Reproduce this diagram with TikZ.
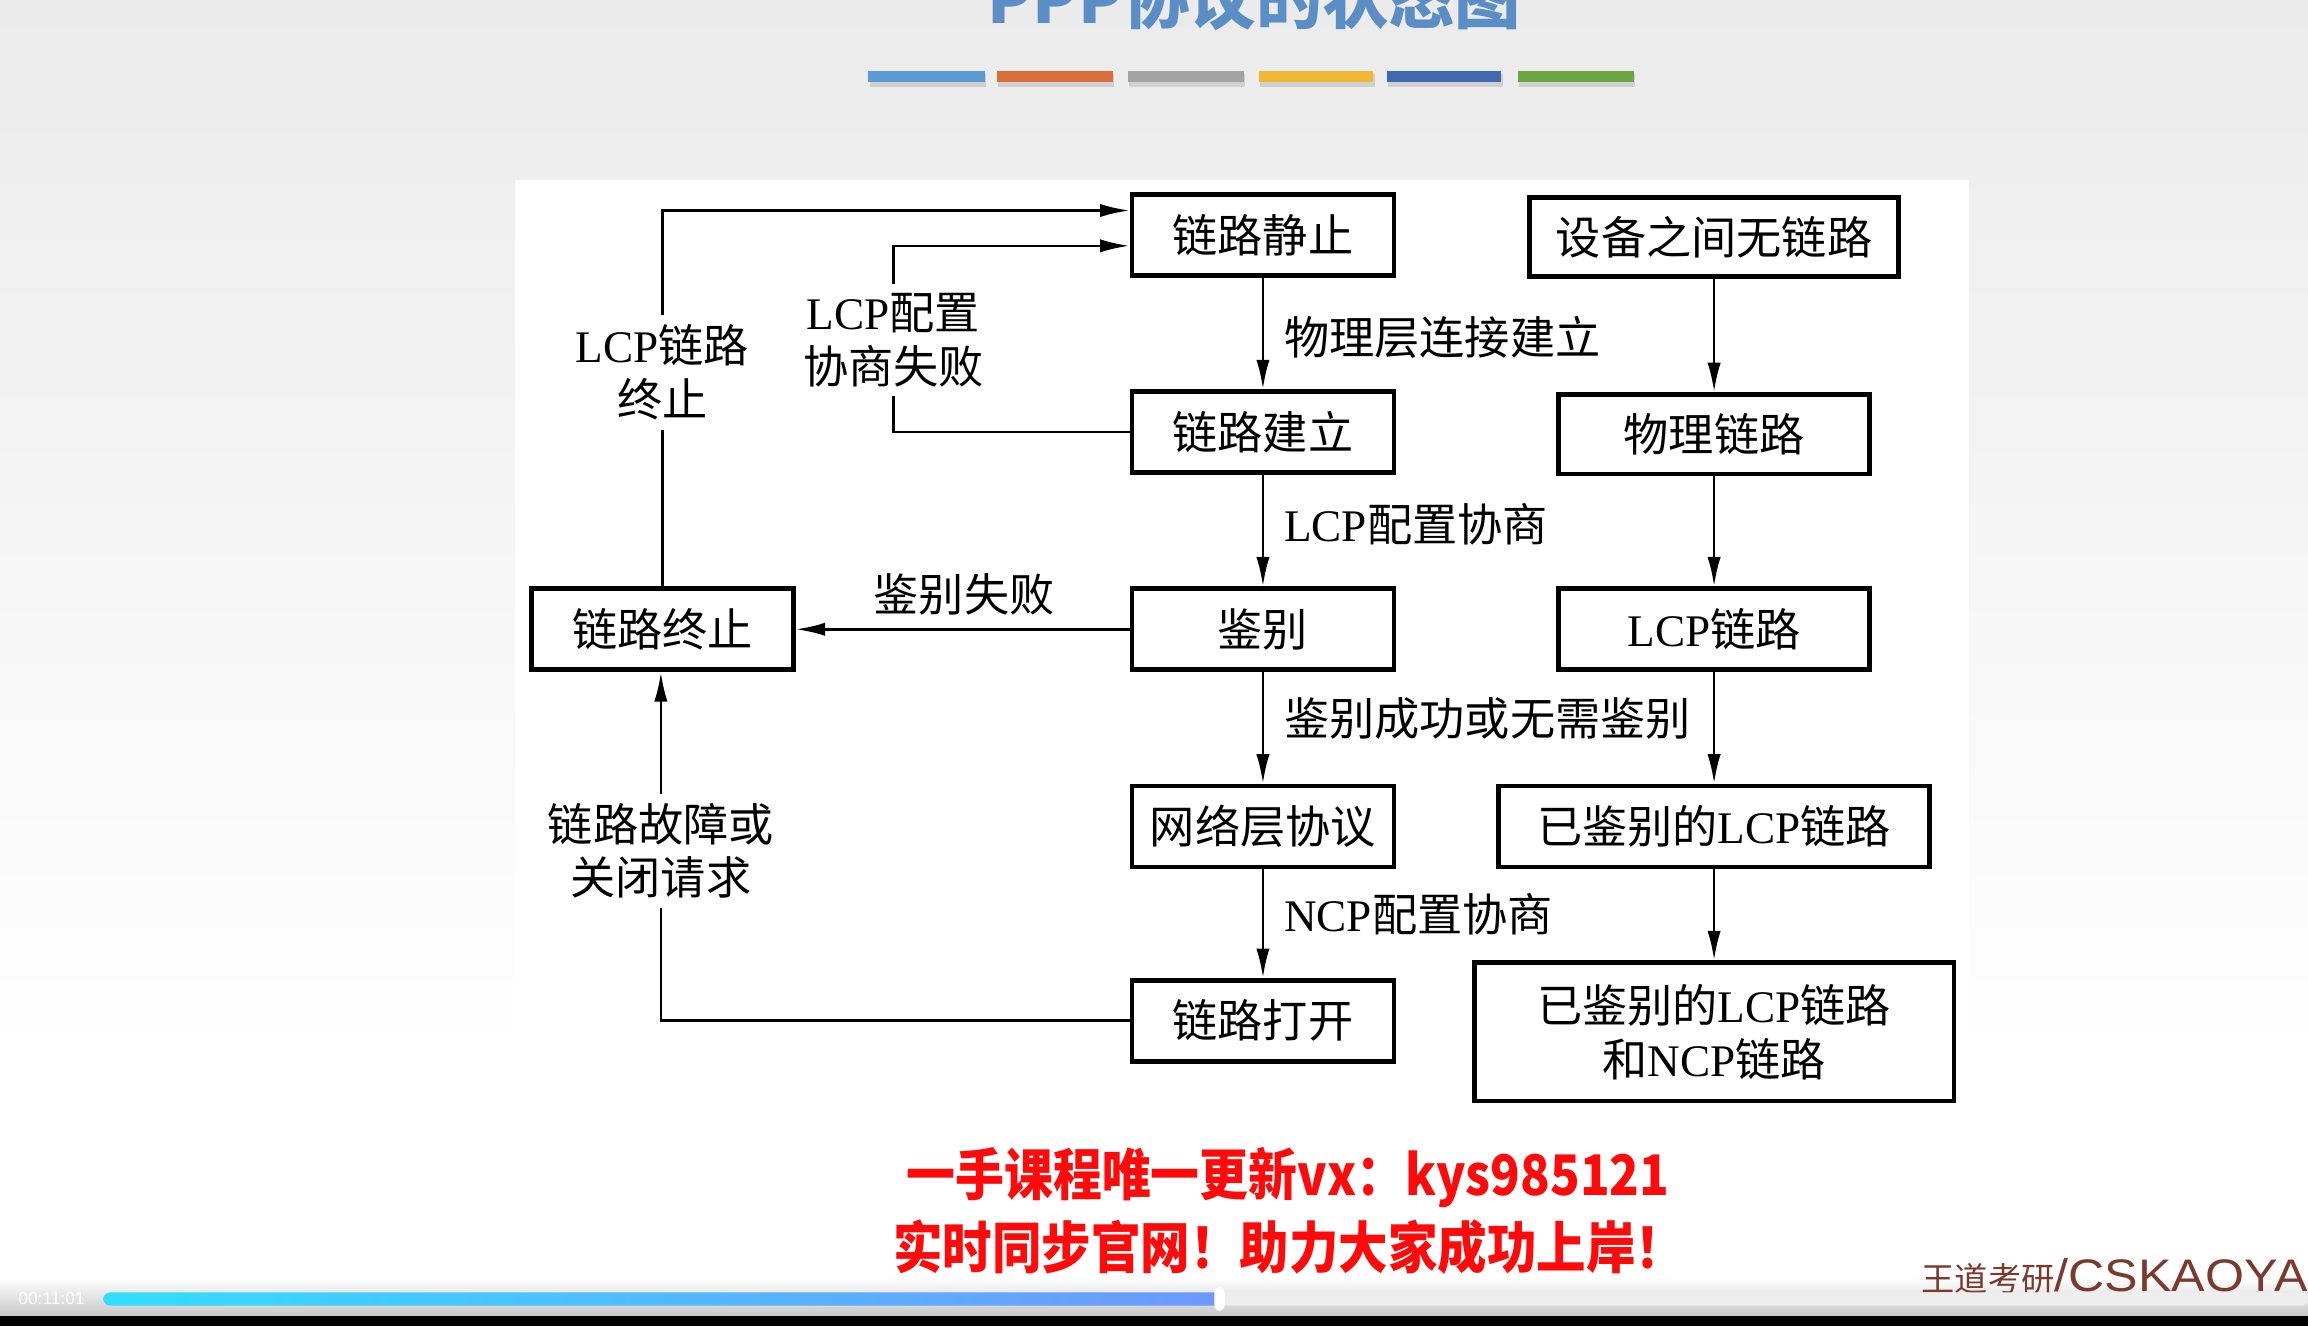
\documentclass[tikz,border=0pt]{standalone}
\usepackage{fontspec}
\setmainfont{Liberation Serif}
\newfontfamily\cjk{Noto Sans CJK SC}
\newfontfamily\sansf{Liberation Sans}
\usetikzlibrary{arrows.meta,calc}
\newcommand\zh[1]{{\cjk #1}}
\newcommand\dfont{\fontsize{15.35pt}{18.25pt}\selectfont}
\definecolor{bgtop}{HTML}{EBEBEB}
\definecolor{titlec}{HTML}{5B8EC5}
\definecolor{barA}{HTML}{5A9AD2}
\definecolor{barB}{HTML}{D86E3A}
\definecolor{barC}{HTML}{A3A3A3}
\definecolor{barD}{HTML}{F0B732}
\definecolor{barE}{HTML}{4169B0}
\definecolor{barF}{HTML}{6DA544}
\definecolor{bottomgray}{HTML}{C8C8C8}
\definecolor{trackc}{HTML}{EEEEEE}
\definecolor{pcA}{HTML}{33DDFF}
\definecolor{pcB}{HTML}{0A98FF}
\definecolor{pcC}{HTML}{6E98FF}
\definecolor{wmc}{HTML}{7B3A2E}
\definecolor{redtxt}{HTML}{FF0A0A}
\begin{document}
\begin{tikzpicture}[x=0.5pt,y=-0.5pt,
  box/.style={draw=black, line width=1.6pt, fill=white, inner sep=0pt, minimum height=27.5pt, font=\dfont},
  arr/.style={line width=0.9pt, -{Latex[length=10pt,width=4.5pt]}},
  ln/.style={line width=0.9pt},
  lbl/.style={inner sep=0pt, font=\dfont, anchor=west},
  side/.style={inner xsep=1pt, inner ysep=3pt, align=center, font=\dfont},
  colorbar/.style={fill=#1},
  redline/.style={text=redtxt, font=\cjk\bfseries\fontsize{19pt}{22pt}\selectfont, inner sep=0pt}
]
\useasboundingbox (0,0) rectangle (1568,901);
% background
\shade[top color=bgtop, bottom color=white] (0,0) rectangle (1568,720);
\fill[white] (0,719) rectangle (1568,870);
\shade[top color=white, bottom color=bottomgray] (0,868) rectangle (1568,894);
\fill[black] (0,894) rectangle (1568,901);
\fill[white] (350,122) rectangle (1338,730);

% title
\node[anchor=base, text=titlec, font=\cjk\bfseries\fontsize{22.5pt}{24pt}\selectfont, inner sep=0pt] (title) at (852,16) {PPP协议的状态图};

% colour bars
\foreach \xa/\xb/\c in {590/669/barA, 677/756/barB, 766/845/barC, 855/933/barD, 942/1020/barE, 1031/1110/barF}{
  \fill[black, opacity=0.12] (\xa+1,50) rectangle (\xb+1,59);
  \fill[colorbar=\c] (\xa,48) rectangle (\xb,56);
}

% boxes
\node[box, minimum width=89pt] (still) at (858,159.5) {\zh{链路静止}};
\node[box, minimum width=125.5pt, minimum height=27pt] (nolink) at (1164.5,161) {\zh{设备之间无链路}};
\node[box, minimum width=89pt] (build) at (858,293.5) {\zh{链路建立}};
\node[box, minimum width=105.5pt, minimum height=27pt] (phys) at (1164.5,295) {\zh{物理链路}};
\node[box, minimum width=89pt] (term) at (450,427.5) {\zh{链路终止}};
\node[box, minimum width=89pt] (auth) at (858,427.5) {\zh{鉴别}};
\node[box, minimum width=105.5pt] (lcp) at (1164.5,427.5) {LCP\zh{链路}};
\node[box, minimum width=89pt] (net) at (858,561.5) {\zh{网络层协议}};
\node[box, minimum width=146.5pt] (alcp) at (1164.5,561.5) {\zh{已鉴别的}LCP\zh{链路}};
\node[box, minimum width=89pt] (open) at (858,693.5) {\zh{链路打开}};
\node[box, minimum width=163pt, minimum height=47pt, align=center] (ancp) at (1164.5,701) {\zh{已鉴别的}LCP\zh{链路}\\\zh{和}NCP\zh{链路}};

% arrow labels
\node[lbl] (t1) at (872,229) {\zh{物理层连接建立}};
\node[lbl] (t2) at (872,356) {LCP\zh{配置协商}};
\node[lbl] (t3) at (872,488) {\zh{鉴别成功或无需鉴别}};
\node[lbl] (t4) at (872,621) {NCP\zh{配置协商}};
\node[font=\dfont, inner sep=0pt] (t5) at (655,403.5) {\zh{鉴别失败}};
\node[side] (l1) at (450,253) {LCP\zh{链路}\\\zh{终止}};
\node[side] (l2) at (607,231) {LCP\zh{配置}\\\zh{协商失败}};
\node[side] (l3) at (449,578) {\zh{链路故障或}\\\zh{关闭请求}};

% straight arrows
\draw[arr] (still) -- (build);
\draw[arr] (build) -- (auth);
\draw[arr] (auth) -- (net);
\draw[arr] (net) -- (open);
\draw[arr] (nolink) -- (phys);
\draw[arr] (phys) -- (lcp);
\draw[arr] (lcp) -- (alcp);
\draw[arr] (alcp) -- (ancp);
\draw[arr] (auth) -- (term);

% loops
\draw[ln] (term) -- (l1);
\draw[arr] (l1) |- ([yshift=8.25pt]still.west);
\draw[ln] (build) -| (l2);
\draw[arr] (l2) |- ([yshift=-3.75pt]still.west);
\draw[ln] (open) -| (l3);
\draw[arr] (l3) -- (l3 |- term.south);

% red notice
\node[redline] (r1) at (875,800) {\scalebox{0.874}[1]{一手课程唯一更新vx：kys985121}};
\node[redline] (r2) at (876,847) {\scalebox{0.885}[1]{实时同步官网！助力大家成功上岸！}};

% watermark
\node[anchor=west, text=wmc, inner sep=0pt] (wm) at (1305,867) {{\cjk\fontsize{11.3pt}{12pt}\selectfont 王道考研}{\sansf\fontsize{15.5pt}{16pt}\selectfont\scalebox{1.1}[1]{/CSKAOYA}}};

% progress bar
\fill[trackc, rounded corners=2pt] (826,878) rectangle (1568,887);
\shade[left color=pcA, middle color=pcB, right color=pcC, rounded corners=2.5pt] (70,878) rectangle (830,887);
\fill[white, rounded corners=2pt] (825,874.5) rectangle (832,890.5);
\node[text=white, font=\sansf\fontsize{5.9pt}{6pt}\selectfont, inner sep=0pt] (time) at (35,882.5) {00:11:01};
\end{tikzpicture}
\end{document}
